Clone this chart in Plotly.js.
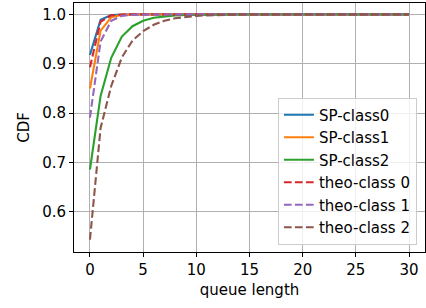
<!DOCTYPE html>
<html>
<head>
<meta charset="utf-8">
<script src="https://cdn.plot.ly/plotly-3.0.1.min.js"></script>
<style>html,body{margin:0;padding:0;background:#fff;}#chart{width:426px;height:308px;}</style>
</head>
<body>
<div id="chart"></div>
<script>
const queueLength = [0,1,2,3,4,5,6,7,8,9,10,11,12,13,14,15,16,17,18,19,20,21,22,23,24,25,26,27,28,29,30];
const spClass0 = [0.918,0.989,0.9985,0.9998,1,1,1,1,1,1,1,1,1,1,1,1,1,1,1,1,1,1,1,1,1,1,1,1,1,1,1];
const spClass1 = [0.850,0.967,0.994,0.999,0.9998,1,1,1,1,1,1,1,1,1,1,1,1,1,1,1,1,1,1,1,1,1,1,1,1,1,1];
const spClass2 = [0.686,0.835,0.912,0.955,0.976,0.987,0.993,0.996,0.998,0.999,0.9995,0.9998,1,1,1,1,1,1,1,1,1,1,1,1,1,1,1,1,1,1,1];
const theoClass0 = [0.893,0.985,0.998,0.9998,1,1,1,1,1,1,1,1,1,1,1,1,1,1,1,1,1,1,1,1,1,1,1,1,1,1,1];
const theoClass1 = [0.791,0.945,0.987,0.997,0.9993,0.9998,1,1,1,1,1,1,1,1,1,1,1,1,1,1,1,1,1,1,1,1,1,1,1,1,1];
const theoClass2 = [0.544,0.770,0.855,0.913,0.947,0.966,0.979,0.987,0.992,0.995,0.997,0.998,0.999,0.9995,0.9997,0.9999,1,1,1,1,1,1,1,1,1,1,1,1,1,1,1];
const seriesNames = ['SP-class0','SP-class1','SP-class2','theo-class 0','theo-class 1','theo-class 2'];
const xTicks = [0,5,10,15,20,25,30];
const yTicks = [0.6,0.7,0.8,0.9,1.0];

const seriesData = [spClass0, spClass1, spClass2, theoClass0, theoClass1, theoClass2];
const colors = ['#1f77b4','#ff7f0e','#2ca02c','#d62728','#9467bd','#8c564b'];
const traces = seriesData.map((ys, i) => ({
  x: queueLength, y: ys, name: seriesNames[i], type: 'scatter', mode: 'lines',
  line: {color: colors[i], width: 2.1, dash: i < 3 ? 'solid' : '7.7px,3.3px'}
}));

const font = {family: 'DejaVu Sans', size: 15, color: '#000'};
const layout = {
  width: 426, height: 308,
  margin: {l: 74, r: 1, t: 3, b: 56},
  paper_bgcolor: '#fff', plot_bgcolor: '#fff',
  font: font,
  showlegend: true,
  xaxis: {
    range: [-1.5, 31.5], tickvals: xTicks, ticktext: xTicks.map(String),
    showgrid: true, gridcolor: '#b0b0b0', gridwidth: 1,
    showline: true, linecolor: '#000', linewidth: 1, mirror: true,
    ticks: 'outside', ticklen: 4, tickcolor: '#000', zeroline: false,
    tickfont: font,
    title: {text: 'queue length', font: font, standoff: 6}
  },
  yaxis: {
    range: [0.519, 1.023], tickvals: yTicks, ticktext: yTicks.map(v => v.toFixed(1)),
    showgrid: true, gridcolor: '#b0b0b0', gridwidth: 1,
    showline: true, linecolor: '#000', linewidth: 1, mirror: true,
    ticks: 'outside', ticklen: 4, tickcolor: '#000', zeroline: false,
    tickfont: font,
    title: {text: 'CDF', font: font, standoff: 8}
  },
  legend: {
    x: 0.977, y: 0.03, xanchor: 'right', yanchor: 'bottom',
    bgcolor: 'rgba(255,255,255,0.8)', bordercolor: '#cccccc', borderwidth: 1,
    font: font, tracegroupgap: 0
  }
};
Plotly.newPlot('chart', traces, layout, {displayModeBar: false, staticPlot: true});
</script>
</body>
</html>
